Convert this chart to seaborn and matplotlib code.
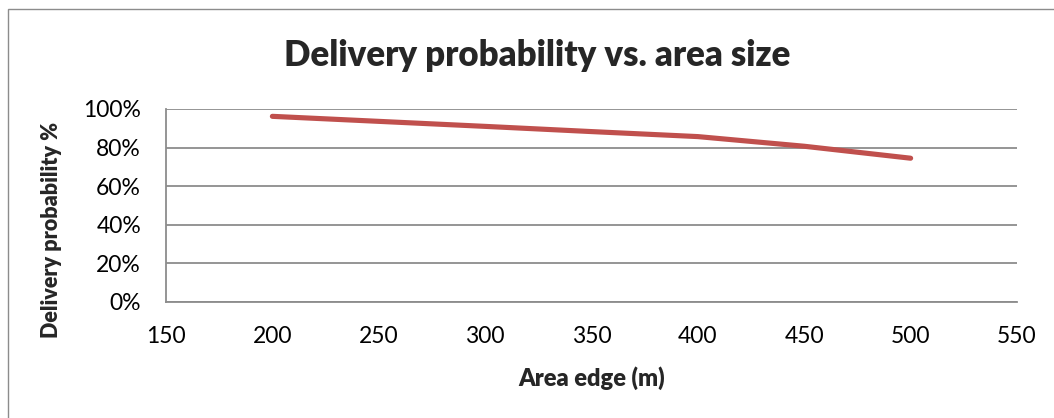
import matplotlib
matplotlib.use("Agg")
import matplotlib.pyplot as plt
import seaborn as sns
import pandas as pd
from matplotlib.ticker import PercentFormatter, MultipleLocator
from matplotlib.patches import Rectangle

# Delivery probability measured for each square area edge length
area_edge = [200, 250, 300, 350, 400, 450, 500]
delivery_prob = [0.962, 0.936, 0.910, 0.883, 0.857, 0.807, 0.745]

x_ticks = [150, 200, 250, 300, 350, 400, 450, 500, 550]

sns.set_theme(style="white")
plt.rcParams["font.family"] = ["Lato", "DejaVu Sans"]

W, H = 1054, 418
fig = plt.figure(figsize=(W / 100, H / 100), dpi=100)
fig.patch.set_facecolor("white")

# chart frame
fig.patches.append(Rectangle((8 / W, -0.1), 1.2, 1 - 9.5 / H + 0.1,
                             transform=fig.transFigure, fill=False,
                             edgecolor="#8c8c8c", linewidth=1.0))

ax = fig.add_axes([166 / W, 1 - 302 / H, (1017 - 166) / W, (302 - 109) / H])
df = pd.DataFrame({"edge": area_edge, "prob": delivery_prob})
sns.lineplot(data=df, x="edge", y="prob", ax=ax, color="#C0504D",
             linewidth=3.7, solid_capstyle="round", solid_joinstyle="round")

ax.set_xlim(150, 550)
ax.set_ylim(0, 1)
ax.set_xticks(x_ticks)
ax.yaxis.set_major_locator(MultipleLocator(0.2))
ax.yaxis.set_major_formatter(PercentFormatter(1.0, decimals=0))
ax.grid(axis="y", color="#8c8c8c", linewidth=1.3)
ax.grid(axis="x", visible=False)
ax.set_axisbelow(True)
for s in ["top", "right"]:
    ax.spines[s].set_visible(False)
for s in ["left", "bottom"]:
    ax.spines[s].set_color("#8c8c8c")
    ax.spines[s].set_linewidth(1.3)
ax.tick_params(axis="both", length=0, labelsize=16.5, colors="black")
ax.tick_params(axis="x", pad=17)
ax.tick_params(axis="y", pad=18)
ax.set_xlabel("")
ax.set_ylabel("")

fig.text(537 / W, 1 - 55 / H, "Delivery probability vs. area size",
         ha="center", va="center", fontsize=25, fontweight="heavy")
fig.text(591.5 / W, 1 - 378 / H, "Area edge (m)",
         ha="center", va="center", fontsize=17, fontweight="heavy")
fig.text(52 / W, 1 - 230 / H, "Delivery probability %", rotation=90,
         ha="center", va="center", fontsize=15.5, fontweight="heavy")

fig.savefig("out.png", dpi=100, facecolor="white")
